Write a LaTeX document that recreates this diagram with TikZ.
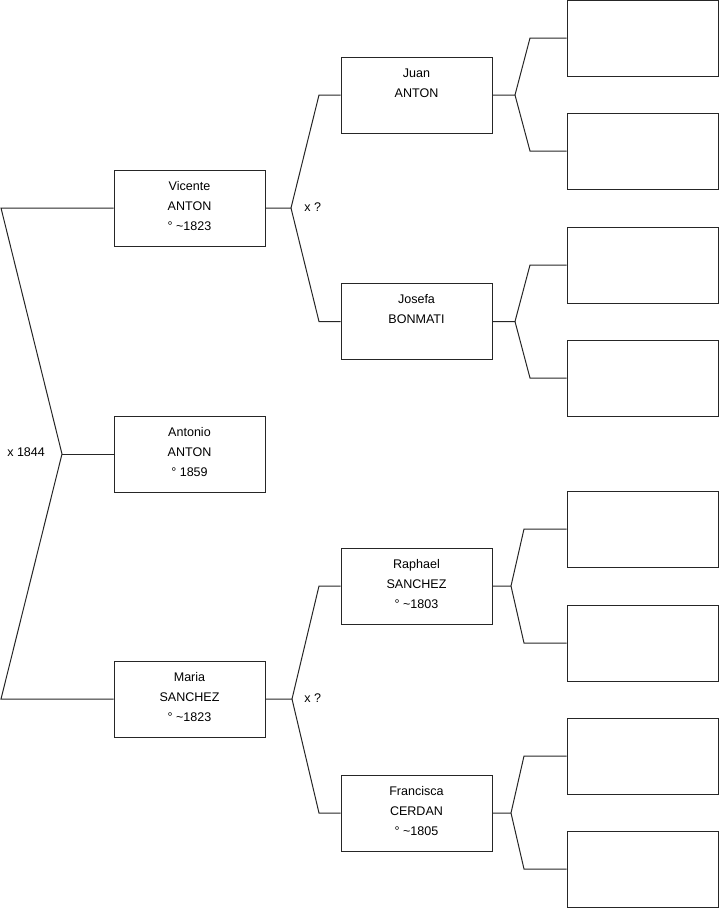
\documentclass[tikz,border=0pt]{standalone}
\usepackage{fontspec}
\setmainfont{Liberation Sans}
\newcommand{\ptext}[1]{\begin{tabular}{@{}c@{}}#1\\[3pt]\end{tabular}}
\begin{document}
\begin{tikzpicture}[x=0.75pt,y=-0.75pt,
  person/.style={draw=black!85,line width=0.75pt,minimum width=113.25pt,minimum height=57pt,inner sep=0pt,align=center,font=\fontsize{9.4}{15}\selectfont},
  link/.style={draw=black!85,line width=0.75pt},
  lbl/.style={anchor=west,inner sep=0pt,font=\fontsize{9.4}{15}\selectfont}]
\useasboundingbox (0,0) rectangle (719,908);
% generation 1
\node[person] (A) at (189.5,454) {\ptext{Antonio\\ANTON\\° 1859}};
% generation 2
\node[person] (V) at (189.5,208) {\ptext{Vicente\\ANTON\\° \textasciitilde1823}};
\node[person] (M) at (189.5,699) {\ptext{Maria\\SANCHEZ\\° \textasciitilde1823}};
% generation 3
\node[person] (J) at (416.5,95) {\ptext{Juan\\ANTON\\ }};
\node[person] (Jo) at (416.5,321.5) {\ptext{Josefa\\BONMATI\\ }};
\node[person] (R) at (416.5,586) {\ptext{Raphael\\SANCHEZ\\° \textasciitilde1803}};
\node[person] (F) at (416.5,813) {\ptext{Francisca\\CERDAN\\° \textasciitilde1805}};
% generation 4 (empty)
\node[person] (E1) at (642.5,38) {};
\node[person] (E2) at (642.5,151) {};
\node[person] (E3) at (642.5,265) {};
\node[person] (E4) at (642.5,378) {};
\node[person] (E5) at (642.5,529) {};
\node[person] (E6) at (642.5,643) {};
\node[person] (E7) at (642.5,756) {};
\node[person] (E8) at (642.5,869) {};
% left fork
\coordinate (L1) at (1,208);
\coordinate (LM) at (62,454);
\coordinate (L2) at (1,699);
\draw[link] (V.west) -- (L1) -- (LM) -- (L2) -- (M.west);
\draw[link] (LM) -- (A.west);
\node[lbl] (m1) at (7,452) {x 1844};
% Vicente fork
\coordinate (FV) at (291,208);
\coordinate (FVa) at (319,95);
\coordinate (FVb) at (319,321.5);
\draw[link] (V.east) -- (FV) -- (FVa) -- (J.west);
\draw[link] (FV) -- (FVb) -- (Jo.west);
\node[lbl] (m2) at (304,207) {x ?};
% Maria fork
\coordinate (FM) at (292,699);
\coordinate (FMa) at (319,586);
\coordinate (FMb) at (319,813);
\draw[link] (M.east) -- (FM) -- (FMa) -- (R.west);
\draw[link] (FM) -- (FMb) -- (F.west);
\node[lbl] (m3) at (304,698) {x ?};
% right forks
\coordinate (FJ) at (515,95);
\coordinate (FJa) at (530,38);
\coordinate (FJb) at (530,151);
\draw[link] (J.east) -- (FJ) -- (FJa) -- (E1.west);
\draw[link] (FJ) -- (FJb) -- (E2.west);
\coordinate (FO) at (515,321.5);
\coordinate (FOa) at (530,265);
\coordinate (FOb) at (530,378);
\draw[link] (Jo.east) -- (FO) -- (FOa) -- (E3.west);
\draw[link] (FO) -- (FOb) -- (E4.west);
\coordinate (FR) at (511,586);
\coordinate (FRa) at (524,529);
\coordinate (FRb) at (524,643);
\draw[link] (R.east) -- (FR) -- (FRa) -- (E5.west);
\draw[link] (FR) -- (FRb) -- (E6.west);
\coordinate (FF) at (511,813);
\coordinate (FFa) at (524,756);
\coordinate (FFb) at (524,869);
\draw[link] (F.east) -- (FF) -- (FFa) -- (E7.west);
\draw[link] (FF) -- (FFb) -- (E8.west);
\end{tikzpicture}
\end{document}
